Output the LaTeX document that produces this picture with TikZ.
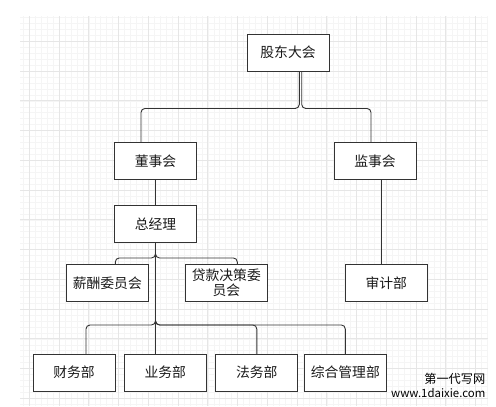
\documentclass[tikz,border=0pt]{standalone}
\usepackage{fontspec}
\setmainfont{Noto Sans CJK SC}
\usepackage{tikz}
\usetikzlibrary{positioning, calc}
\definecolor{cLine}     {HTML}{333333}
\definecolor{cText}     {HTML}{1A1A1A}
\definecolor{cGridMinor}{HTML}{F5F5F5}
\definecolor{cGridMajor}{HTML}{E6E6E6}
\tikzset{
  orgbox/.style={draw=cLine, fill=white, line width=0.9pt,
                 minimum width=82pt, minimum height=37pt, inner sep=1pt,
                 font=\fontsize{13.8}{15.5}\selectfont, text=cText, align=center},
  conn/.style={draw=cLine, line width=0.9pt, rounded corners=4pt},
  gridminor/.style={draw=cGridMinor, line width=0.5pt},
  gridmajor/.style={draw=cGridMajor, line width=0.8pt},
  wmtext/.style={inner sep=0pt, anchor=east, text=black},
}

\begin{document}
\begin{tikzpicture}[x=1pt, y=-1pt]
  \useasboundingbox (0,0) rectangle (496,407);
  % grid background
  \foreach \i in {-1,...,77}{
    \draw[gridminor] (29.3+\i*5.95,16) -- (29.3+\i*5.95,406);
  }
  \foreach \j in {-4,...,61}{
    \draw[gridminor] (20,41.3+\j*5.95) -- (488,41.3+\j*5.95);
  }
  \foreach \i in {0,...,15}{
    \draw[gridmajor] (29.3+\i*29.75,16) -- (29.3+\i*29.75,406);
  }
  \foreach \j in {0,...,12}{
    \draw[gridmajor] (20,41.3+\j*29.75) -- (488,41.3+\j*29.75);
  }
  % boxes
  \node[orgbox] (gd)  at (288,52.5)    {股东大会};
  \node[orgbox] (dsh) at (155.5,161)   {董事会};
  \node[orgbox] (jsh) at (375,161)     {监事会};
  \node[orgbox] (zjl) at (155.5,224)   {总经理};
  \node[orgbox] (xc)  at (107.3,283)   {薪酬委员会};
  \node[orgbox] (dk)  at (226.3,283)   {贷款决策委\\员会};
  \node[orgbox] (sj)  at (386.3,283)   {审计部};
  \node[orgbox] (cw)  at (74,372.7)    {财务部};
  \node[orgbox] (yw)  at (165.3,372.7) {业务部};
  \node[orgbox] (fw)  at (256.8,372.7) {法务部};
  \node[orgbox] (zh)  at (345.3,372.7) {综合管理部};
  % connectors
  \draw[conn] ([xshift=11.3]gd.south) -- ++(0,37) -| ([xshift=-14.5]dsh.north);
  \draw[conn] ([xshift=13.7]gd.south) -- ++(0,37) -| ([xshift=-4]jsh.north);
  \draw[conn] (dsh.south) -- (zjl.north);
  \draw[conn] (zjl.south) -- ++(0,15) -| ([xshift=8]xc.north);
  \draw[conn] (zjl.south) -- ++(0,15) -| ([xshift=11]dk.north);
  \draw[conn] (zjl.south) -- ++(0,82) -| ([xshift=12]cw.north);
  \draw[conn] (zjl.south) -- ([xshift=-9.8]yw.north);
  \draw[conn] (zjl.south) -- ++(0,82) -| (fw.north);
  \draw[conn] (zjl.south) -- ++(0,82) -| (zh.north);
  \draw[conn] ([xshift=6.3]jsh.south) -- ([xshift=-5]sj.north);
  % watermark
  \node[wmtext, font=\fontsize{12.2}{13}\selectfont] (wm1) at (485.5,378.5) {第一代写网};
  \node[wmtext, font=\fontsize{11.4}{12}\selectfont] (wm2) at (485.5,393)   {www.1daixie.com};
\end{tikzpicture}
\end{document}
